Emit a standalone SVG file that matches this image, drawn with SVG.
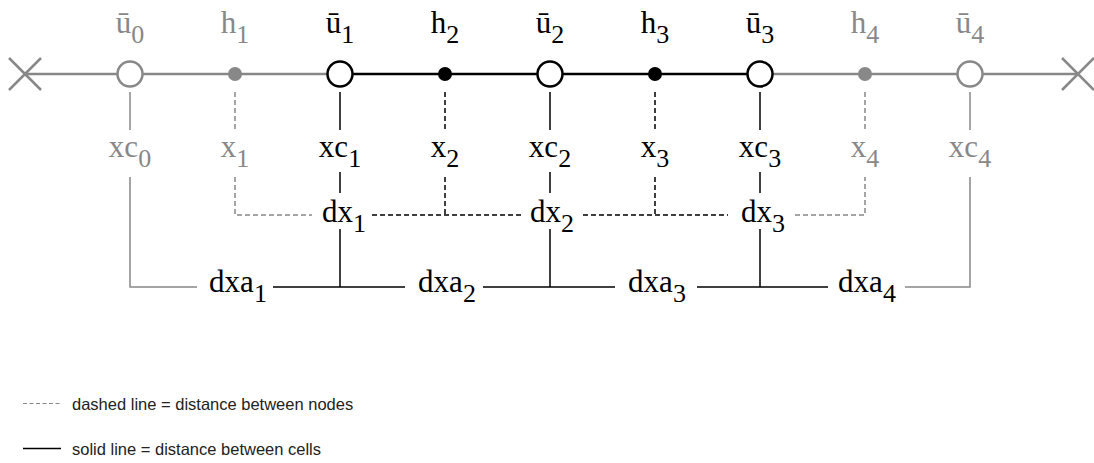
<svg xmlns="http://www.w3.org/2000/svg" width="1094" height="463" viewBox="0 0 1094 463">
<style>
.lbl{font-family:"Liberation Serif","Times New Roman",serif;font-size:31px;text-anchor:middle;fill:#000}
.sub{font-size:26px}
.g{fill:#888}
.k{fill:#000}
.axis{fill:none;stroke-width:2.5}
.ga{stroke:#888}
.ka{stroke:#000}
.cell{fill:#fff;stroke-width:2.5}
.ln{fill:none;stroke-width:1.5}
.gl{stroke:#888}
.kl{stroke:#000}
.dash{stroke-dasharray:5,3}
.leg{font-family:"Liberation Sans",Arial,sans-serif;font-size:16.5px;fill:#222}
</style>
<rect width="1094" height="463" fill="#fff"/>

<g id="axis">
<line class="axis ga" x1="25" y1="74" x2="340" y2="74"/>
<line class="axis ka" x1="340" y1="74" x2="760" y2="74"/>
<line class="axis ga" x1="760" y1="74" x2="1078" y2="74"/>
<path class="axis ga" d="M9,58 L41,90 M9,90 L41,58"/>
<path class="axis ga" d="M1062,58 L1094,90 M1062,90 L1094,58"/>
</g>

<g id="connectors">
<line class="ln gl" x1="130" y1="92" x2="130" y2="130"/>
<line class="ln kl" x1="340" y1="92" x2="340" y2="130"/>
<line class="ln kl" x1="550" y1="92" x2="550" y2="130"/>
<line class="ln kl" x1="760" y1="92" x2="760" y2="130"/>
<line class="ln gl" x1="970" y1="92" x2="970" y2="130"/>
<line class="ln gl dash" x1="235" y1="92" x2="235" y2="129"/>
<line class="ln kl dash" x1="445" y1="92" x2="445" y2="129"/>
<line class="ln kl dash" x1="655" y1="92" x2="655" y2="129"/>
<line class="ln gl dash" x1="865" y1="92" x2="865" y2="129"/>
<path class="ln gl dash" d="M235,177 L235,215 L312,215"/>
<path class="ln kl dash" d="M372,215 L522,215 M445,177 L445,215"/>
<path class="ln kl dash" d="M583,215 L728,215 M655,177 L655,215"/>
<path class="ln gl dash" d="M795,215 L865,215 L865,177"/>
<line class="ln kl" x1="340" y1="172" x2="340" y2="193"/>
<line class="ln kl" x1="550" y1="172" x2="550" y2="193"/>
<line class="ln kl" x1="760" y1="172" x2="760" y2="193"/>
<line class="ln kl" x1="340" y1="229" x2="340" y2="287"/>
<line class="ln kl" x1="550" y1="229" x2="550" y2="287"/>
<line class="ln kl" x1="760" y1="229" x2="760" y2="287"/>
<path class="ln gl" d="M130,177 L130,287 L197,287"/>
<line class="ln kl" x1="273" y1="287" x2="405" y2="287"/>
<line class="ln kl" x1="483" y1="287" x2="615" y2="287"/>
<line class="ln kl" x1="697" y1="287" x2="828" y2="287"/>
<path class="ln gl" d="M905,287 L970,287 L970,177"/>
</g>

<g id="u0"><circle class="cell ga" cx="130" cy="74" r="12.5"/><text class="lbl g" x="130" y="33">ū<tspan class="sub" dy="10">0</tspan></text></g>
<g id="h1"><circle class="g" cx="235" cy="74" r="7"/><text class="lbl g" x="235" y="33">h<tspan class="sub" dy="10">1</tspan></text></g>
<g id="u1"><circle class="cell ka" cx="340" cy="74" r="12.5"/><text class="lbl" x="340" y="33">ū<tspan class="sub" dy="10">1</tspan></text></g>
<g id="h2"><circle class="k" cx="445" cy="74" r="7"/><text class="lbl" x="445" y="33">h<tspan class="sub" dy="10">2</tspan></text></g>
<g id="u2"><circle class="cell ka" cx="550" cy="74" r="12.5"/><text class="lbl" x="550" y="33">ū<tspan class="sub" dy="10">2</tspan></text></g>
<g id="h3"><circle class="k" cx="655" cy="74" r="7"/><text class="lbl" x="655" y="33">h<tspan class="sub" dy="10">3</tspan></text></g>
<g id="u3"><circle class="cell ka" cx="760" cy="74" r="12.5"/><text class="lbl" x="760" y="33">ū<tspan class="sub" dy="10">3</tspan></text></g>
<g id="h4"><circle class="g" cx="865" cy="74" r="7"/><text class="lbl g" x="865" y="33">h<tspan class="sub" dy="10">4</tspan></text></g>
<g id="u4"><circle class="cell ga" cx="970" cy="74" r="12.5"/><text class="lbl g" x="970" y="33">ū<tspan class="sub" dy="10">4</tspan></text></g>

<g id="xc0"><text class="lbl g" x="130" y="157">xc<tspan class="sub" dy="10">0</tspan></text></g>
<g id="x1"><text class="lbl g" x="235" y="157">x<tspan class="sub" dy="10">1</tspan></text></g>
<g id="xc1"><text class="lbl" x="340" y="157">xc<tspan class="sub" dy="10">1</tspan></text></g>
<g id="x2"><text class="lbl" x="445" y="157">x<tspan class="sub" dy="10">2</tspan></text></g>
<g id="xc2"><text class="lbl" x="550" y="157">xc<tspan class="sub" dy="10">2</tspan></text></g>
<g id="x3"><text class="lbl" x="655" y="157">x<tspan class="sub" dy="10">3</tspan></text></g>
<g id="xc3"><text class="lbl" x="760" y="157">xc<tspan class="sub" dy="10">3</tspan></text></g>
<g id="x4"><text class="lbl g" x="865" y="157">x<tspan class="sub" dy="10">4</tspan></text></g>
<g id="xc4"><text class="lbl g" x="970" y="157">xc<tspan class="sub" dy="10">4</tspan></text></g>

<g id="dx1"><text class="lbl" x="344" y="222">dx<tspan class="sub" dy="10">1</tspan></text></g>
<g id="dx2"><text class="lbl" x="552" y="222">dx<tspan class="sub" dy="10">2</tspan></text></g>
<g id="dx3"><text class="lbl" x="763" y="222">dx<tspan class="sub" dy="10">3</tspan></text></g>

<g id="dxa1"><text class="lbl" x="238" y="292">dxa<tspan class="sub" dy="10">1</tspan></text></g>
<g id="dxa2"><text class="lbl" x="447" y="292">dxa<tspan class="sub" dy="10">2</tspan></text></g>
<g id="dxa3"><text class="lbl" x="657" y="292">dxa<tspan class="sub" dy="10">3</tspan></text></g>
<g id="dxa4"><text class="lbl" x="867" y="292">dxa<tspan class="sub" dy="10">4</tspan></text></g>

<g id="legend">
<line class="ln gl dash" x1="23" y1="403.5" x2="61" y2="403.5" style="stroke-width:1.2;stroke-dasharray:4,2.5"/>
<text class="leg" x="72" y="409.5">dashed line = distance between nodes</text>
<line class="ln kl" x1="23" y1="448.5" x2="61" y2="448.5" style="stroke-width:1.3"/>
<text class="leg" x="72" y="454.5">solid line = distance between cells</text>
</g>
</svg>
